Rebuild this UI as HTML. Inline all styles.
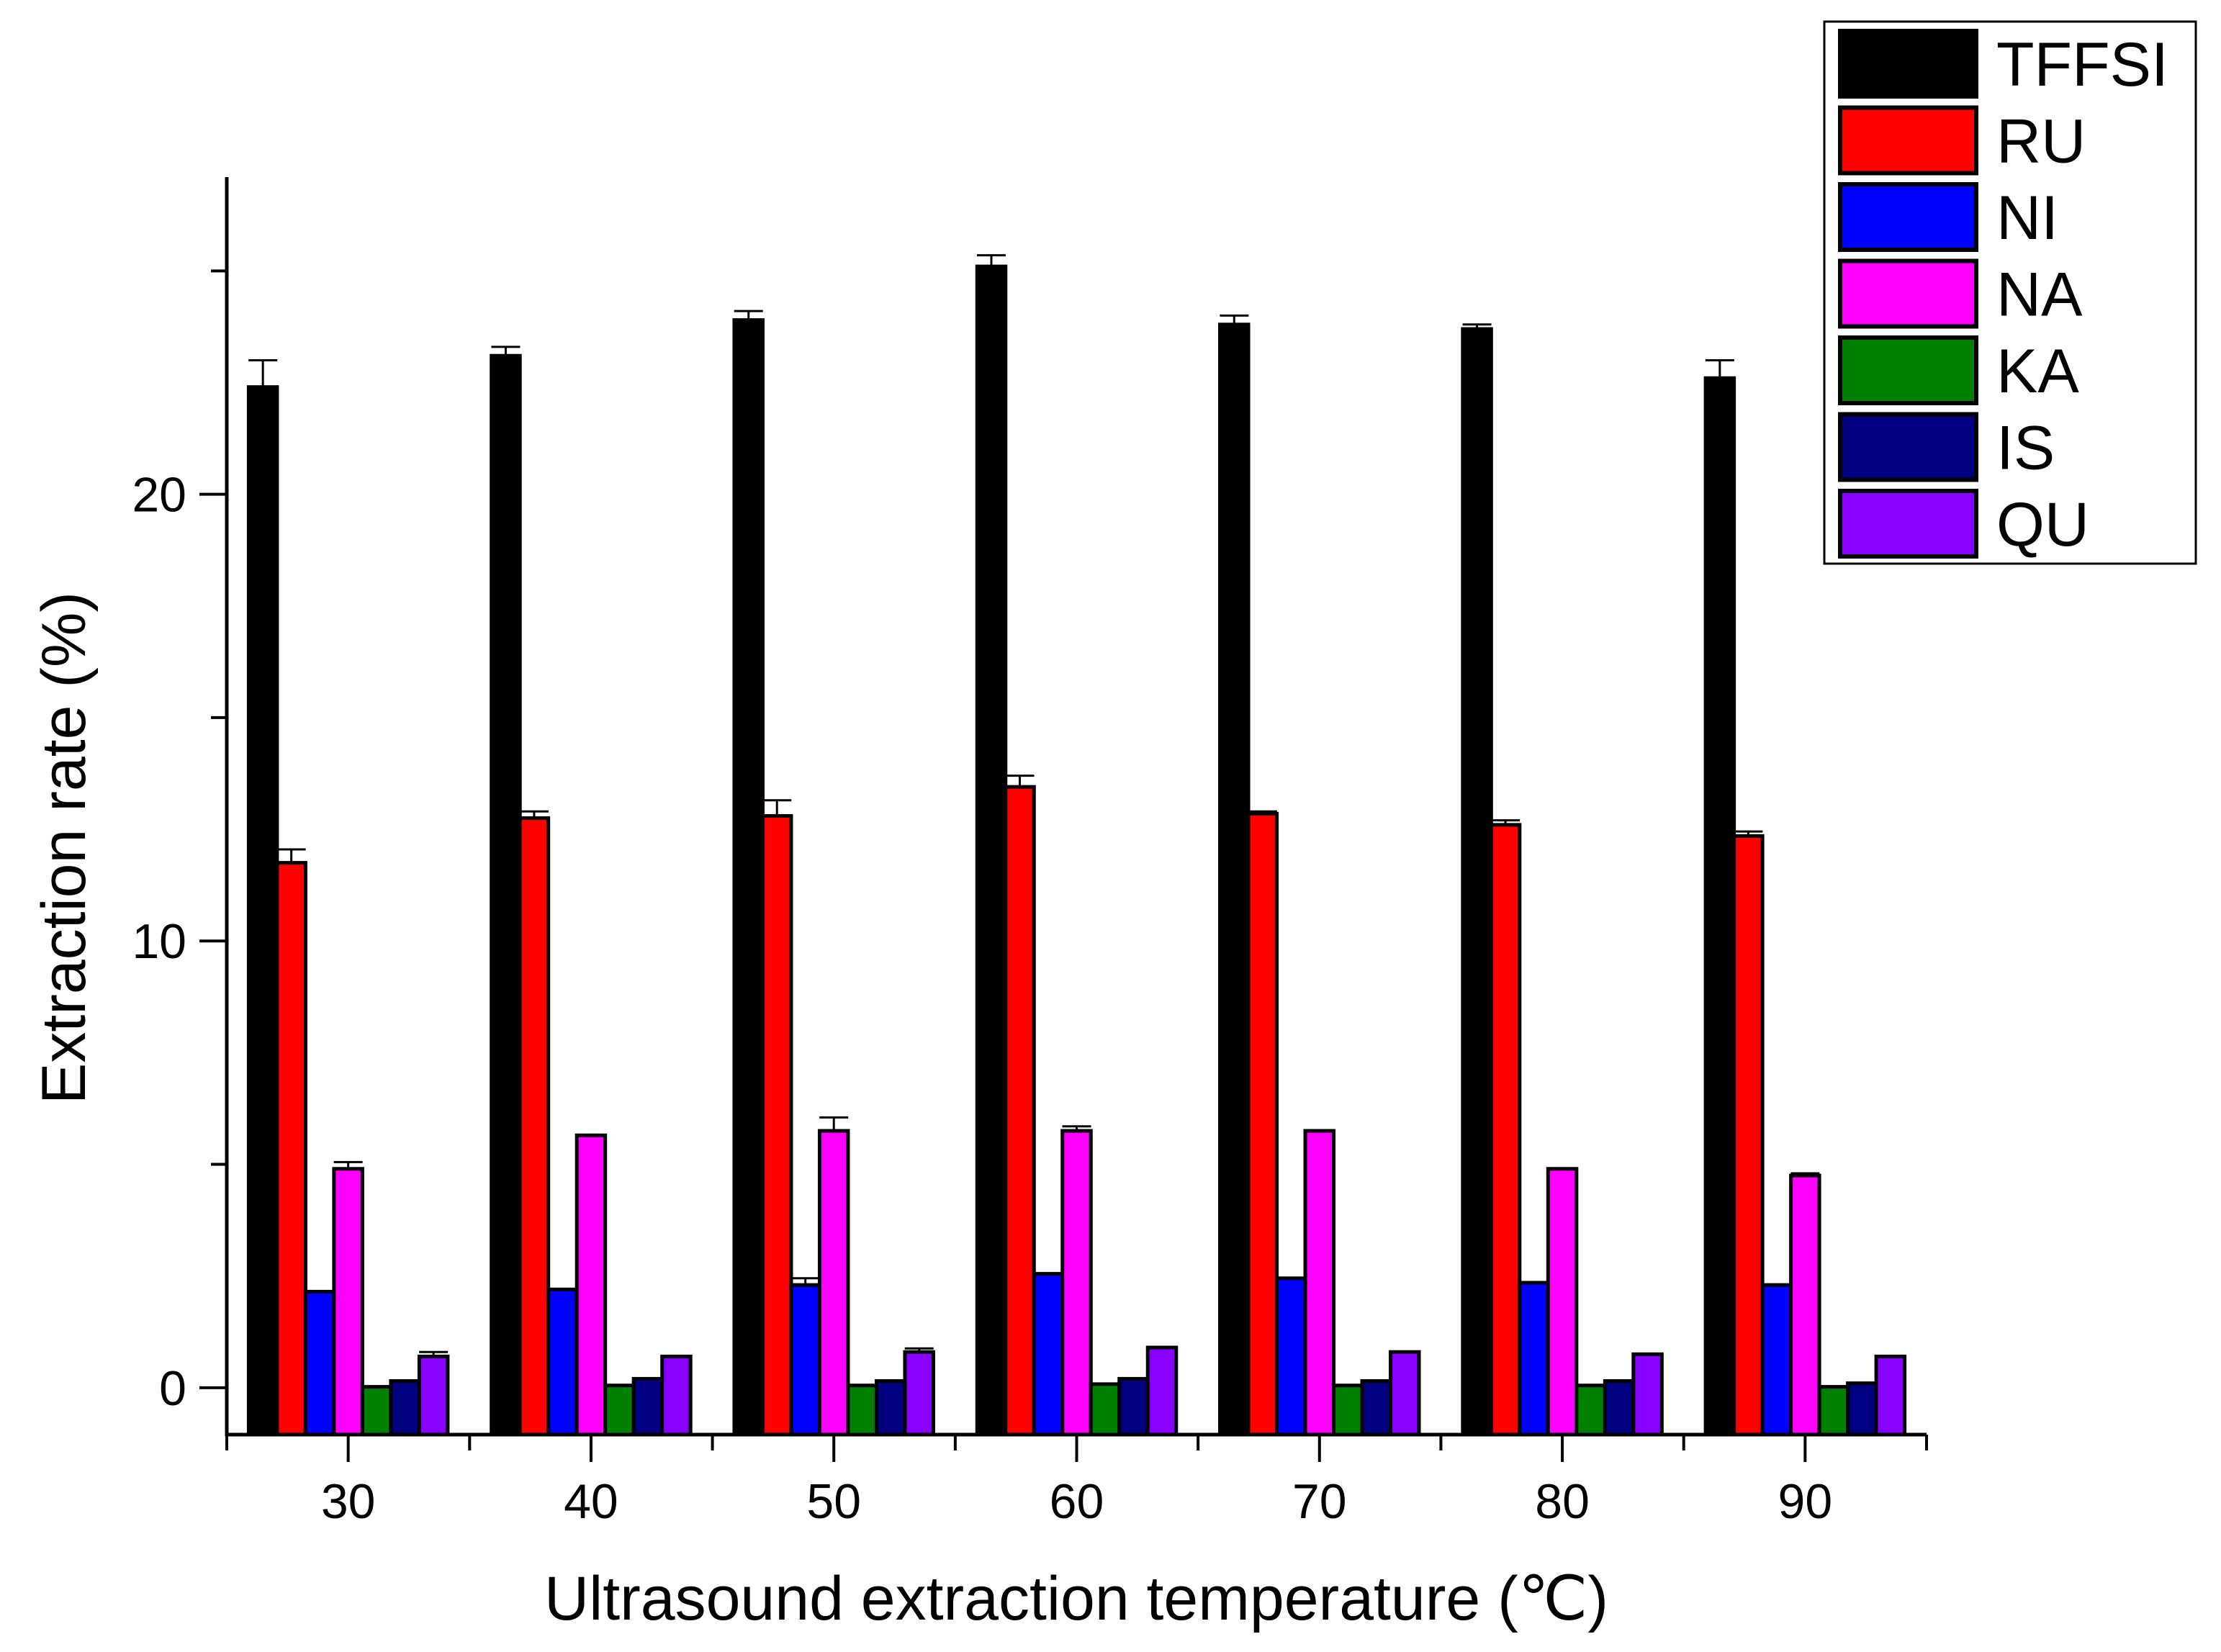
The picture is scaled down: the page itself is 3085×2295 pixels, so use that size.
<!DOCTYPE html>
<html><head><meta charset="utf-8"><style>
html,body{margin:0;padding:0;background:#fff;}
svg{display:block;font-family:"Liberation Sans",Arial,sans-serif;}
</style></head><body>
<svg id="chart" width="3085" height="2295" viewBox="0 0 3085 2295" xmlns="http://www.w3.org/2000/svg">
<rect x="0" y="0" width="3085" height="2295" fill="#fff"/>
<g id="bars"></g>
<g id="axes"></g>
<text x="118" y="1178" font-size="86" text-anchor="middle" transform="rotate(-90 118 1178)">Extraction rate (%)</text>
<text x="1495" y="2250" font-size="86" text-anchor="middle">Ultrasound extraction temperature (℃)</text>
<g id="legend"></g>
</svg>
<script>
const categories = [30, 40, 50, 60, 70, 80, 90];
const seriesNames = ["TFFSI", "RU", "NI", "NA", "KA", "IS", "QU"];
const seriesColors = ["#000000", "#ff0000", "#0000ff", "#ff00ff", "#008000", "#000080", "#8800ff"];
const tffsi = [22.4, 23.1, 23.9, 25.1, 23.8, 23.7, 22.6];
const tffsiErr = [0.6, 0.2, 0.2, 0.25, 0.2, 0.1, 0.4];
const ru = [11.75, 12.75, 12.8, 13.45, 12.85, 12.6, 12.35];
const ruErr = [0.3, 0.15, 0.35, 0.25, 0.05, 0.1, 0.1];
const ni = [2.15, 2.2, 2.3, 2.55, 2.45, 2.35, 2.3];
const niErr = [0, 0, 0.15, 0, 0, 0, 0];
const na = [4.9, 5.65, 5.75, 5.75, 5.75, 4.9, 4.75];
const naErr = [0.15, 0, 0.3, 0.1, 0, 0, 0.05];
const ka = [0.02, 0.05, 0.05, 0.08, 0.05, 0.05, 0.02];
const kaErr = [0, 0, 0, 0, 0, 0, 0];
const is = [0.15, 0.2, 0.15, 0.2, 0.15, 0.15, 0.1];
const isErr = [0, 0, 0, 0, 0, 0, 0];
const qu = [0.7, 0.7, 0.8, 0.9, 0.8, 0.75, 0.7];
const quErr = [0.1, 0, 0.08, 0, 0, 0, 0];
const yTickLabels = [0, 10, 20];
const xTickLabels = ["30", "40", "50", "60", "70", "80", "90"];

const series = [tffsi, ru, ni, na, ka, is, qu];
const errs = [tffsiErr, ruErr, niErr, naErr, kaErr, isErr, quErr];
const NS = "http://www.w3.org/2000/svg";
const X0 = 315, X1 = 2676, Y0 = 1993, Y1 = 246;
const xMin = 25, xMax = 95, yMin = -1.05, yMax = 27.1;
const xs = v => X0 + (v - xMin) / (xMax - xMin) * (X1 - X0);
const ys = v => Y0 - (v - yMin) / (yMax - yMin) * (Y0 - Y1);
const barW = 39.5;
function mk(tag, attrs, parent) {
  const e = document.createElementNS(NS, tag);
  for (const k in attrs) e.setAttribute(k, attrs[k]);
  parent.appendChild(e);
  return e;
}
const gb = document.getElementById("bars");
categories.forEach((c, i) => {
  const cx = xs(c);
  series.forEach((s, j) => {
    const x = cx - 3.5 * barW + j * barW;
    const top = ys(s[i]);
    const r = mk("rect", {x: x, y: top, width: barW, height: Y0 - top, fill: seriesColors[j], stroke: "#000", "stroke-width": 5}, gb);
    
    
    const e = errs[j][i];
    if (e > 0) {
      const ey = ys(s[i] + e);
      const mx = x + barW / 2;
      const p = mk("path", {d: `M${mx},${top} V${ey} M${mx - 20},${ey} H${mx + 20}`, stroke: "#000", "stroke-width": 3, fill: "none"}, gb);
      
      
    }
  });
});
const ga = document.getElementById("axes");
const ax = mk("path", {d: `M${X0},${Y1} V${Y0} H${X1}`, stroke: "#000", "stroke-width": 5, fill: "none"}, ga);


[5, 15, 25].forEach(v => {
  const t = mk("line", {x1: X0 - 22, x2: X0, y1: ys(v), y2: ys(v), stroke: "#000", "stroke-width": 4}, ga);
  
  
});
yTickLabels.forEach(v => {
  const t = mk("line", {x1: X0 - 38, x2: X0, y1: ys(v), y2: ys(v), stroke: "#000", "stroke-width": 4}, ga);
  
  
  const l = mk("text", {x: X0 - 56, y: ys(v) + 24, "font-size": 68, "text-anchor": "end"}, ga);
  l.textContent = v;
  
  
});
categories.forEach((c, i) => {
  const t = mk("line", {x1: xs(c), x2: xs(c), y1: Y0, y2: Y0 + 38, stroke: "#000", "stroke-width": 4}, ga);
  
  
  const l = mk("text", {x: xs(c), y: 2109, "font-size": 68, "text-anchor": "middle"}, ga);
  l.textContent = xTickLabels[i];
  
  
});
for (let v = 25; v <= 95; v += 10) {
  const t = mk("line", {x1: xs(v), x2: xs(v), y1: Y0, y2: Y0 + 22, stroke: "#000", "stroke-width": 4}, ga);
  
  
}
const gl = document.getElementById("legend");
const lb = mk("rect", {x: 2534, y: 30, width: 516, height: 753, fill: "#fff", stroke: "#000", "stroke-width": 3}, gl);


seriesNames.forEach((n, j) => {
  const y = 43 + j * 106.5;
  const s = mk("rect", {x: 2556, y: y, width: 189, height: 91, fill: seriesColors[j], stroke: "#000", "stroke-width": 6}, gl);
  
  
  const t = mk("text", {x: 2773, y: y + 76, "font-size": 86}, gl);
  t.textContent = n;
  
  
});
</script>
</body></html>
